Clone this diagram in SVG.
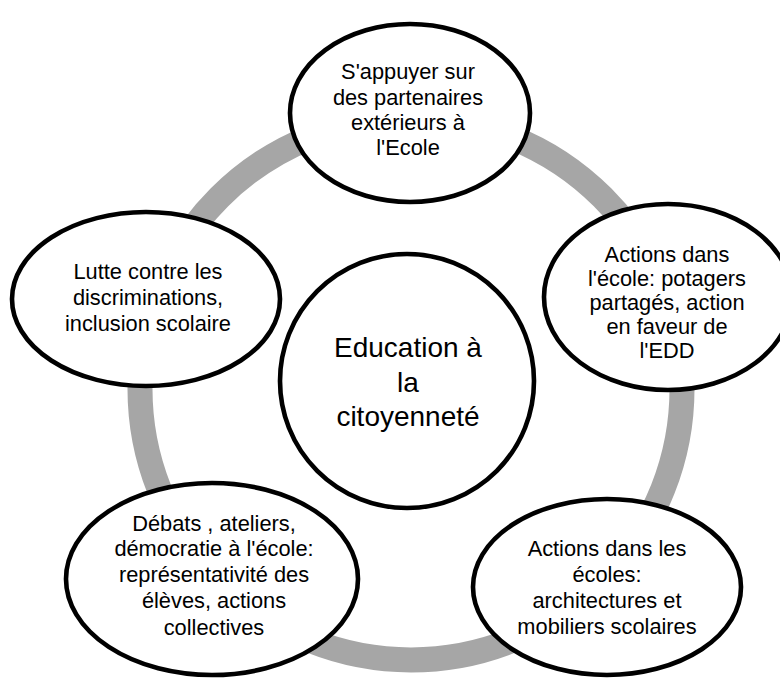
<svg xmlns="http://www.w3.org/2000/svg" width="780" height="680" viewBox="0 0 780 680">
<style>
.node{fill:#ffffff;stroke:#000000;stroke-width:4.6}
.ring{fill:none;stroke:#a6a6a6;stroke-width:25}
text{font-family:"Liberation Sans",Arial,sans-serif;fill:#000000;text-anchor:middle}
.t{font-size:21.8px}
.c{font-size:28px}
</style>
<rect width="780" height="680" fill="#ffffff"/>
<g id="connectors">
<circle class="ring" cx="411" cy="389" r="271"/>
</g>
<g id="center">
<circle class="node" cx="407" cy="381" r="127"/>
<text class="c" x="408" y="357">Education à</text>
<text class="c" x="408" y="392">la</text>
<text class="c" x="408" y="426">citoyenneté</text>
</g>
<g id="n-partenaires">
<ellipse class="node" cx="410" cy="113" rx="120" ry="89"/>
<text class="t" x="408" y="79">S'appuyer sur</text>
<text class="t" x="408" y="105">des partenaires</text>
<text class="t" x="408" y="130">extérieurs à</text>
<text class="t" x="408" y="155">l'Ecole</text>
</g>
<g id="n-potagers">
<ellipse class="node" cx="668" cy="297" rx="124" ry="93"/>
<text class="t" x="667" y="262">Actions dans</text>
<text class="t" x="667" y="286">l'école: potagers</text>
<text class="t" x="667" y="310">partagés, action</text>
<text class="t" x="667" y="334">en faveur de</text>
<text class="t" x="667" y="358">l'EDD</text>
</g>
<g id="n-architectures">
<ellipse class="node" cx="607" cy="587" rx="134" ry="88"/>
<text class="t" x="607" y="556">Actions dans les</text>
<text class="t" x="607" y="582">écoles:</text>
<text class="t" x="607" y="608">architectures et</text>
<text class="t" x="607" y="634">mobiliers scolaires</text>
</g>
<g id="n-debats">
<ellipse class="node" cx="212" cy="579" rx="146" ry="96"/>
<text class="t" x="214" y="531">Débats , ateliers,</text>
<text class="t" x="214" y="556">démocratie à l'école:</text>
<text class="t" x="214" y="582">représentativité des</text>
<text class="t" x="214" y="608">élèves, actions</text>
<text class="t" x="214" y="635">collectives</text>
</g>
<g id="n-discriminations">
<ellipse class="node" cx="146" cy="299" rx="134" ry="87"/>
<text class="t" x="148" y="279">Lutte contre les</text>
<text class="t" x="148" y="305">discriminations,</text>
<text class="t" x="148" y="331">inclusion scolaire</text>
</g>
</svg>
